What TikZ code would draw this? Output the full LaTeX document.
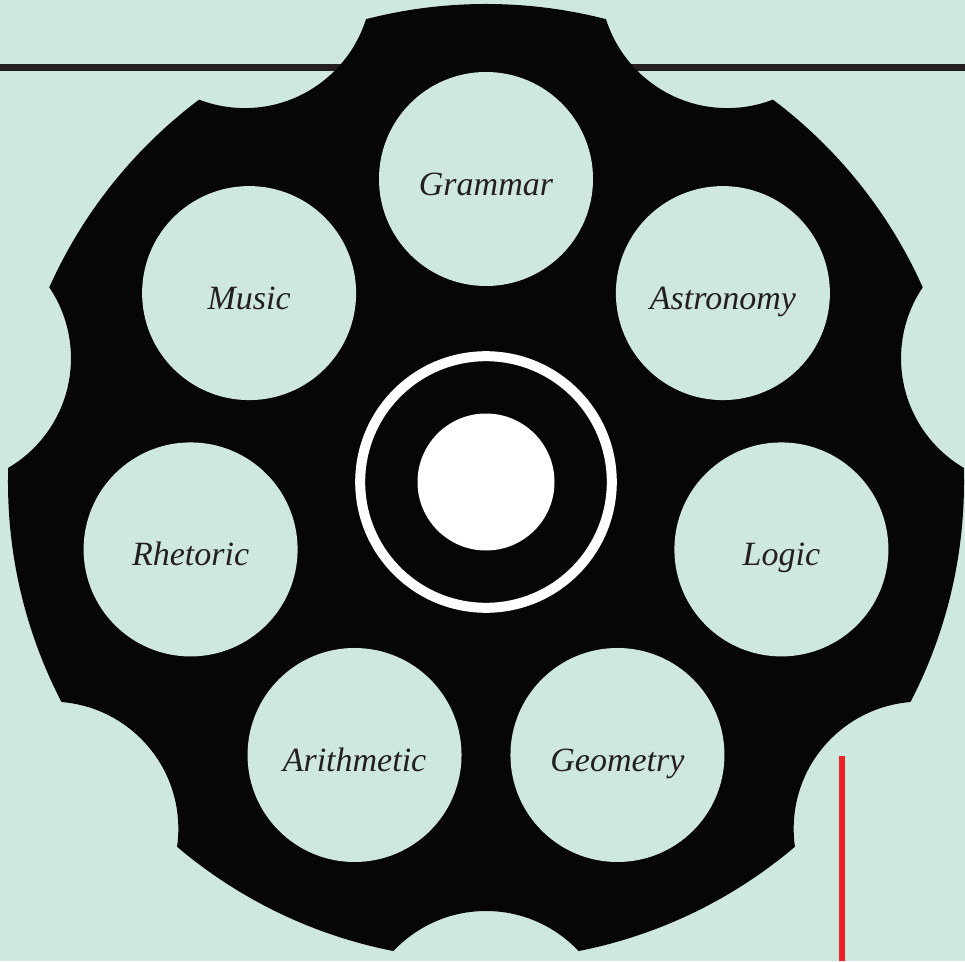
\documentclass[tikz,border=0pt]{standalone}
\usepackage{fontspec}
\setmainfont{Liberation Serif}
\usepackage{tikz}

\definecolor{mint}{HTML}{CFE8DF}
\definecolor{ink}{HTML}{231F20}
\definecolor{cyl}{HTML}{060605}
\definecolor{redmark}{HTML}{EC2229}

\begin{document}
\begin{tikzpicture}[x=1pt,y=1pt,
  chamber/.style={circle,fill=mint,minimum size=214pt,inner sep=0pt,text=ink,
    font=\fontsize{34}{34}\selectfont\itshape,text height=33pt,text depth=0pt},
  hub/.style={circle,inner sep=0pt}]
\fill[mint] (-486,-479) rectangle (479,482);
\useasboundingbox (-486,-479) rectangle (479,482);
% rules behind the cylinder
\coordinate (rule west) at (-486,414);
\coordinate (rule east) at (479,414);
\draw[ink,line width=7pt] (rule west) -- (rule east);
\coordinate (mark top) at (356,-274);
\coordinate (mark bottom) at (356,-479);
\draw[redmark,line width=5.5pt] (mark top) -- (mark bottom);
% cylinder with seven notches
\begin{scope}[even odd rule]
\clip (-700,-700) rectangle (700,700)
   \foreach \a in {-90,-38.571,12.857,64.286,115.714,167.143,218.571} {
   (\a:556) circle[radius=127]
   };
\fill[cyl] (0,0) circle[radius=478];
\end{scope}
% chambers
\foreach \x/\1 in %
{90/Grammar,141.429/Music,192.857/Rhetoric,244.286/Arithmetic,
 295.714/Geometry,347.143/Logic,38.571/Astronomy} {
   \node[chamber] (\1) at (\x:303) {\1};
}
% centre pin
\node[hub,draw=white,line width=10pt,minimum size=251.6pt] (ring) at (0,0) {};
\node[hub,fill=white,minimum size=137pt] (pin) at (ring.center) {};
\end{tikzpicture}
\end{document}
